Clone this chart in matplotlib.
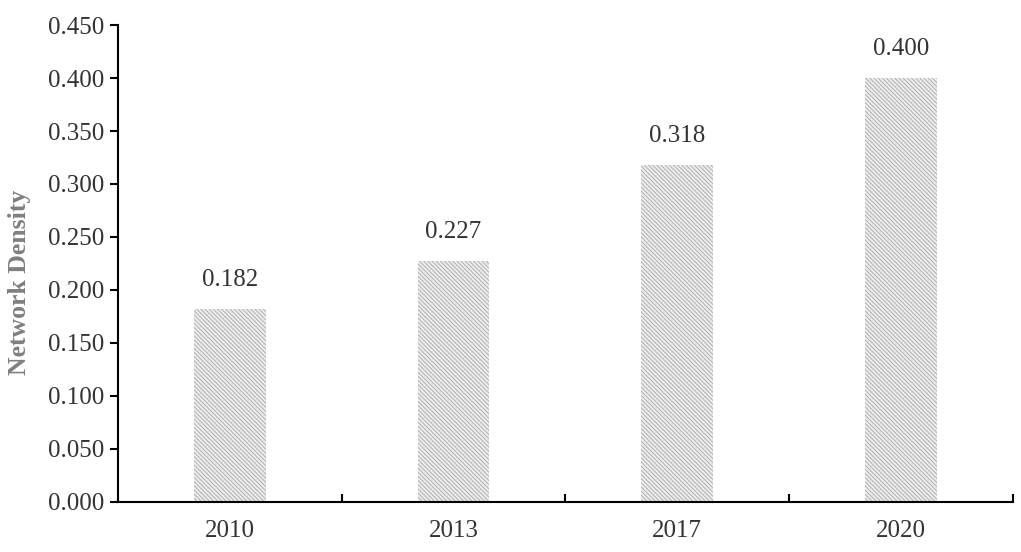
import matplotlib
matplotlib.use("Agg")
import matplotlib.pyplot as plt
import numpy as np

years = ["2010", "2013", "2017", "2020"]
density = [0.182, 0.227, 0.318, 0.400]
yticks = [0.0, 0.05, 0.10, 0.15, 0.20, 0.25, 0.30, 0.35, 0.40, 0.45]

plt.rcParams['font.family'] = ['Liberation Serif', 'DejaVu Serif']
plt.rcParams['hatch.linewidth'] = 0.8

fig = plt.figure(figsize=(10.21, 5.52), dpi=100)
ax = fig.add_axes([0.1156, 0.0906, 0.8764, 0.8641])

x = np.arange(len(years))
bars = ax.bar(x, density, width=0.32, color='#efefef', edgecolor='#b4b4b4',
              hatch='\\\\\\\\\\\\\\\\', linewidth=0)
for xi, v in zip(x, density):
    ax.text(xi, v + 0.017, f"{v:.3f}", ha='center', va='bottom',
            fontsize=18, color='#333333')

ax.set_xlim(-0.5, 3.5)
ax.set_ylim(0, 0.45)
ax.set_yticks(yticks)
ax.set_yticklabels([f"{t:.3f}" for t in yticks])
ax.set_xticks(x)
ax.set_xticklabels(years)
ax.set_xticks([0.5, 1.5, 2.5, 3.5], minor=True)
ax.tick_params(axis='x', which='major', length=0, pad=13, labelsize=18, labelcolor='#333333')
ax.tick_params(axis='x', which='minor', direction='in', length=6, width=1.5)
ax.tick_params(axis='y', direction='out', length=6, width=1.5, labelsize=18, labelcolor='#333333', pad=4)

for s in ['top', 'right']:
    ax.spines[s].set_visible(False)
for s in ['left', 'bottom']:
    ax.spines[s].set_linewidth(1.5)

ax.set_ylabel("Network Density", fontsize=18.5, fontweight='bold', color='#7f7f7f')
ax.yaxis.set_label_coords(-0.097, 0.46)

fig.savefig("out.png", dpi=100)
